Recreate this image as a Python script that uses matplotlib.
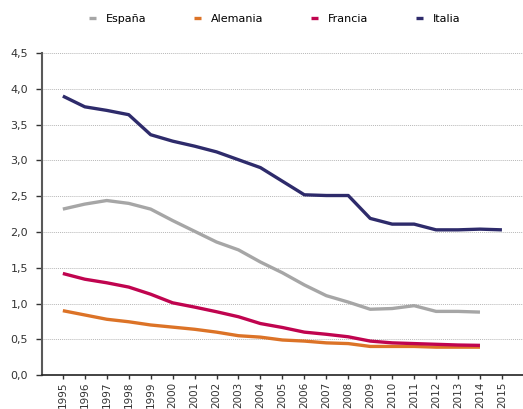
import matplotlib.pyplot as plt
from matplotlib.ticker import FuncFormatter

years = list(range(1995, 2016))

espana = [2.32, 2.39, 2.44, 2.40, 2.32, 2.16, 2.01, 1.86, 1.75, 1.58, 1.43, 1.26,
          1.11, 1.02, 0.92, 0.93, 0.97, 0.89, 0.89, 0.88]
alemania = [0.90, 0.84, 0.78, 0.745, 0.70, 0.67, 0.64, 0.60, 0.55, 0.53, 0.49, 0.475,
            0.45, 0.44, 0.40, 0.40, 0.40, 0.39, 0.39, 0.39]
francia = [1.42, 1.34, 1.29, 1.23, 1.13, 1.01, 0.95, 0.885, 0.815, 0.72, 0.665, 0.60,
           0.57, 0.535, 0.475, 0.45, 0.44, 0.43, 0.42, 0.415]
italia = [3.90, 3.75, 3.70, 3.64, 3.36, 3.27, 3.20, 3.12, 3.01, 2.90, 2.71, 2.52,
          2.51, 2.51, 2.19, 2.11, 2.11, 2.03, 2.03, 2.04, 2.03]

series = [("España", espana, "#a6a6a6"),
          ("Alemania", alemania, "#dc7327"),
          ("Francia", francia, "#c0044f"),
          ("Italia", italia, "#2e2b6b")]

fig = plt.figure(figsize=(5.23, 4.09), dpi=100)
ax = fig.add_axes([0.0803, 0.083, 0.9197, 0.787])

for name, vals, col in series:
    ax.plot(years[:len(vals)], vals, color=col, lw=2.4, label=name,
            solid_capstyle="butt")

ax.set_ylim(0, 4.5)
ax.set_xlim(1994.05, 2015.96)
ax.set_yticks([i * 0.5 for i in range(10)])
ax.yaxis.set_major_formatter(FuncFormatter(lambda v, p: f"{v:.1f}".replace(".", ",")))
ax.set_xticks(years)
ax.set_xticklabels([str(y) for y in years], rotation=90)
ax.tick_params(axis="both", colors="#333333", width=1)
ax.tick_params(axis="x", length=3, pad=2, labelsize=7.5)
ax.tick_params(axis="y", length=4, pad=6, labelsize=8)

ax.grid(axis="y", linestyle=(0, (1, 1)), color="#b8b8b8", lw=0.7)
ax.set_axisbelow(True)
for s in ["top", "right"]:
    ax.spines[s].set_visible(False)
ax.spines["left"].set_color("#595959")
ax.spines["left"].set_linewidth(1.5)
ax.spines["bottom"].set_color("#222222")
ax.spines["bottom"].set_linewidth(1.2)

fig.legend(loc="upper center", bbox_to_anchor=(0.525, 0.99), ncol=4, frameon=False,
           fontsize=8, handlelength=0.6, columnspacing=4.3, handletextpad=0.9)

fig.savefig("out.png", dpi=100)
